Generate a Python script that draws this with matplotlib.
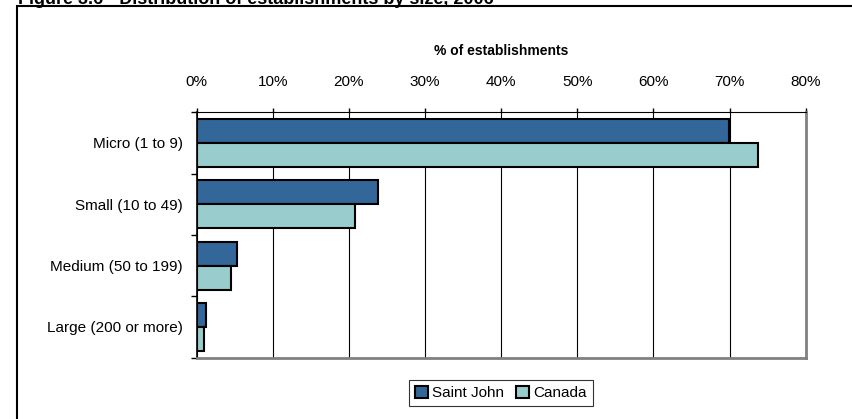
import numpy as np
import matplotlib
matplotlib.use("Agg")
import matplotlib.pyplot as plt
from matplotlib.patches import Rectangle

plt.rcParams['font.family'] = ['Liberation Sans Narrow', 'Liberation Sans', 'DejaVu Sans']

# data
categories = ["Micro (1 to 9)", "Small (10 to 49)", "Medium (50 to 199)", "Large (200 or more)"]
saint_john = [69.9, 23.8, 5.3, 1.2]
canada = [73.7, 20.8, 4.5, 1.0]
series_names = ["Saint John", "Canada"]
title = "Figure 3.6 - Distribution of establishments by size, 2006"

W, H = 852, 419
fig = plt.figure(figsize=(W / 100, H / 100), dpi=100)

# outer frame of the figure box
fig.patches.append(Rectangle((16.5 / W, -0.05), 1.0, 1 - 6.5 / H + 0.05,
                             transform=fig.transFigure, fill=False,
                             edgecolor='black', linewidth=1.5))
# title, mostly cut off by the top edge
fig.text(18 / W, 1 - 4 / H, title, fontsize=13, fontweight='bold',
         family=['Liberation Sans', 'DejaVu Sans'], ha='left', va='baseline')

ax = fig.add_axes([196.7 / W, 1 - 357.6 / H, (805.7 - 196.7) / W, (357.6 - 112.3) / H])

y = np.arange(len(categories))
h = 0.39
ax.barh(y - h / 2, saint_john, height=h, color='#336699', edgecolor='black',
        linewidth=1.5, label=series_names[0], zorder=3)
ax.barh(y + h / 2, canada, height=h, color='#99CCCC', edgecolor='black',
        linewidth=1.5, label=series_names[1], zorder=3)

ax.set_xlim(0, 80)
ax.set_ylim(len(categories) - 0.5, -0.5)
ax.set_xticks(np.arange(0, 81, 10))
ax.set_xticklabels([f"{v}%" for v in range(0, 81, 10)])
ax.xaxis.tick_top()
ax.xaxis.set_label_position('top')
ax.set_xlabel("% of establishments", fontsize=10, fontweight='bold',
              family=['Liberation Sans', 'DejaVu Sans'], labelpad=14)
ax.tick_params(axis='x', direction='out', length=3, width=1, pad=14, labelsize=11)
ax.grid(axis='x', color='black', linewidth=0.8, zorder=0)

ax.set_yticks(y)
ax.set_yticklabels(categories)
ax.set_yticks(np.arange(-0.5, len(categories)), minor=True)
ax.tick_params(axis='y', which='major', length=0, pad=10, labelsize=11)
ax.tick_params(axis='y', which='minor', length=4, width=1, direction='out')

ax.spines['top'].set_color('black')
ax.spines['left'].set_color('black')
ax.spines['left'].set_linewidth(1.2)
ax.spines['right'].set_color('#808080')
ax.spines['right'].set_linewidth(2)
ax.spines['bottom'].set_color('#808080')
ax.spines['bottom'].set_linewidth(2)

leg = fig.legend(loc='center', bbox_to_anchor=(501 / W, 1 - 393 / H), ncol=2,
                 frameon=True, fancybox=False, fontsize=11, handlelength=0.8,
                 handleheight=0.8, handletextpad=0.3, columnspacing=0.8,
                 borderpad=0.4)
leg.get_frame().set_edgecolor('black')
leg.get_frame().set_linewidth(0.8)

fig.savefig("out.png", dpi=100)
